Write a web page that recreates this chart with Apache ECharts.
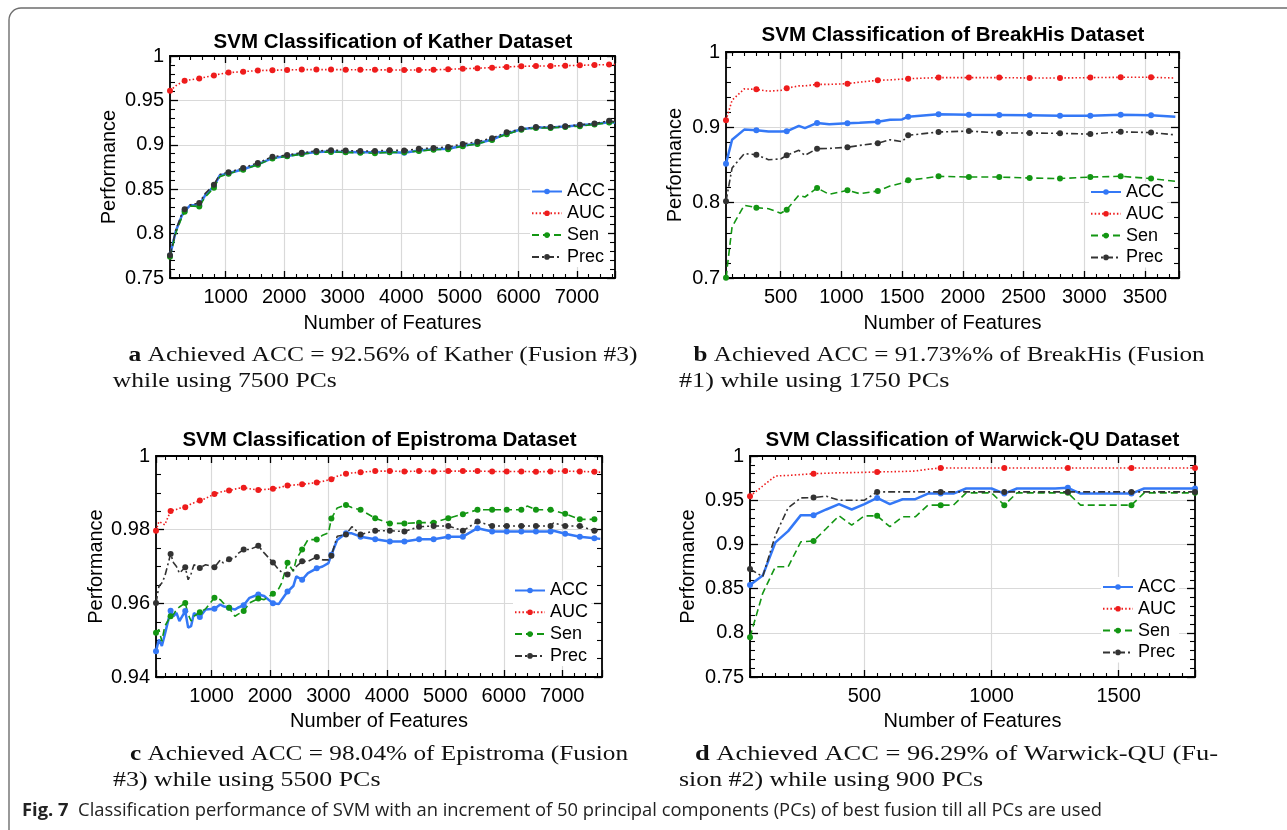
<!DOCTYPE html>
<html><head><meta charset="utf-8">
<script src="https://cdn.jsdelivr.net/npm/echarts@6/dist/echarts.min.js"></script>
<style>html,body{margin:0;padding:0;background:#fff}#c{width:1287px;height:830px}</style>
</head><body><div id="c"></div>
<script>
// ---------------- DATA ----------------
const seriesNames = ['ACC', 'AUC', 'Sen', 'Prec'];

// (a) Kather
const katherX = [50,150,250,300,400,550,650,800,900,1050,1300,1550,1800,2050,2300,2550,2800,3050,3300,3550,3800,4050,4300,4550,4800,5050,5300,5550,5800,6050,6300,6550,6800,7050,7300,7550,7650];
const katherACC = [0.775,0.803,0.820,0.8255,0.832,0.832,0.843,0.8535,0.8655,0.868,0.8725,0.878,0.885,0.8875,0.890,0.892,0.8925,0.892,0.8915,0.8915,0.892,0.891,0.8935,0.895,0.8955,0.899,0.9015,0.906,0.9125,0.9175,0.9195,0.9195,0.9205,0.922,0.9235,0.9255,0.925];
const katherAUC = [0.9608,0.9665,0.9705,0.9720,0.9732,0.9746,0.9762,0.9780,0.9797,0.9813,0.9824,0.9836,0.9840,0.9843,0.9847,0.9847,0.9847,0.9846,0.9846,0.9844,0.9843,0.9843,0.9843,0.9844,0.9850,0.9857,0.9862,0.9869,0.9877,0.9884,0.9887,0.9888,0.9891,0.9895,0.9900,0.9903,0.9905];
const katherSen = [0.774,0.801,0.818,0.8245,0.831,0.8305,0.841,0.8515,0.864,0.8675,0.872,0.8775,0.8845,0.887,0.8895,0.8915,0.892,0.8915,0.891,0.8905,0.8915,0.8915,0.893,0.8945,0.895,0.8985,0.901,0.9055,0.912,0.917,0.919,0.919,0.920,0.921,0.9228,0.925,0.9255];
const katherPrec = [0.7755,0.804,0.822,0.8274,0.8325,0.8345,0.845,0.855,0.8665,0.869,0.874,0.8795,0.8865,0.8885,0.891,0.893,0.894,0.8935,0.893,0.893,0.894,0.8935,0.8955,0.8965,0.8975,0.901,0.9035,0.9075,0.914,0.918,0.920,0.920,0.921,0.9225,0.924,0.927,0.926];

// (b) BreakHis
const breakhisX = [50,100,200,300,400,500,550,650,700,800,900,1050,1150,1300,1400,1500,1550,1800,2050,2300,2550,2800,3050,3300,3550,3750];
const breakhisACC = [0.8518,0.8836,0.897,0.896,0.8945,0.8945,0.8947,0.902,0.899,0.9058,0.904,0.9053,0.906,0.9075,0.910,0.9105,0.9142,0.9173,0.9168,0.9164,0.916,0.9155,0.9155,0.9168,0.916,0.9142];
const breakhisAUC = [0.9093,0.936,0.951,0.9504,0.948,0.949,0.952,0.955,0.955,0.957,0.957,0.958,0.960,0.9624,0.963,0.964,0.9646,0.966,0.966,0.966,0.9655,0.9655,0.966,0.9664,0.9664,0.9655];
const breakhisSen = [0.7004,0.768,0.7965,0.7934,0.792,0.786,0.7907,0.810,0.8075,0.8195,0.811,0.8164,0.812,0.8155,0.822,0.826,0.8296,0.835,0.834,0.834,0.8327,0.832,0.834,0.835,0.832,0.8283];
const breakhisPrec = [0.8018,0.846,0.865,0.8637,0.857,0.858,0.8628,0.8695,0.8628,0.8717,0.872,0.8735,0.876,0.879,0.8836,0.881,0.8894,0.8938,0.895,0.8925,0.8925,0.892,0.891,0.894,0.893,0.890];

// (c) Epistroma
const epistromaX = [50,100,150,200,300,350,400,450,550,600,650,700,800,900,1050,1150,1200,1300,1400,1450,1550,1650,1800,1900,2050,2150,2200,2300,2400,2450,2550,2650,2800,2900,3000,3050,3150,3300,3400,3550,3800,4050,4300,4550,4800,5050,5300,5550,5800,6050,6300,6400,6550,6800,6850,7050,7300,7550,7650];
const epistromaACC = [0.9470,0.9502,0.9484,0.9515,0.9580,0.9565,0.9574,0.9552,0.9579,0.9534,0.9538,0.9574,0.9563,0.9583,0.9585,0.9597,0.9592,0.9588,0.9583,0.9588,0.9595,0.9615,0.9624,0.9620,0.9600,0.9598,0.9610,0.9632,0.9647,0.9673,0.9664,0.9682,0.9695,0.9700,0.9709,0.9732,0.9772,0.9790,0.9790,0.9781,0.9774,0.9768,0.9768,0.9774,0.9774,0.9781,0.9781,0.9804,0.9795,0.9795,0.9795,0.9795,0.9795,0.9795,0.9797,0.9789,0.9781,0.9777,0.9775];
const epistromaAUC = [0.9797,0.9822,0.9818,0.9813,0.9851,0.9853,0.9855,0.9858,0.9861,0.9865,0.9870,0.9873,0.9879,0.9885,0.9897,0.9902,0.9904,0.9906,0.9910,0.9912,0.9914,0.9911,0.9908,0.9909,0.9911,0.9914,0.9916,0.9920,0.9921,0.9922,0.9923,0.9925,0.9928,0.9931,0.9935,0.9937,0.9945,0.9952,0.9954,0.9956,0.9959,0.9959,0.9958,0.9959,0.9958,0.9959,0.9959,0.9959,0.9958,0.9958,0.9958,0.9958,0.9957,0.9958,0.9958,0.9959,0.9958,0.9957,0.9956];
const epistromaSen = [0.9520,0.9529,0.9497,0.9538,0.9565,0.9570,0.9583,0.9590,0.9601,0.9570,0.9552,0.9565,0.9576,0.9585,0.9615,0.9610,0.9601,0.9588,0.9565,0.9570,0.9579,0.9601,0.9613,0.9610,0.9626,0.9640,0.9655,0.9710,0.9687,0.9720,0.9746,0.9773,0.9773,0.9785,0.9791,0.9830,0.9859,0.9867,0.9860,0.9854,0.9831,0.9817,0.9817,0.9819,0.9819,0.9831,0.9842,0.9854,0.9854,0.9854,0.9854,0.9864,0.9854,0.9854,0.9852,0.9843,0.9828,0.9828,0.9828];
const epistromaPrec = [0.9601,0.9646,0.9655,0.9673,0.9734,0.9710,0.9700,0.9682,0.9698,0.9664,0.9680,0.9705,0.9696,0.9705,0.9698,0.9718,0.9710,0.9720,0.9723,0.9735,0.9746,0.9746,0.9756,0.9737,0.9711,0.9691,0.9685,0.9678,0.9691,0.9700,0.9714,0.9714,0.9726,0.9718,0.9718,0.9729,0.9782,0.9787,0.9808,0.9787,0.9797,0.9797,0.9795,0.9808,0.9810,0.9810,0.9797,0.9822,0.9810,0.9810,0.9810,0.9810,0.9810,0.9810,0.9818,0.9810,0.9810,0.9797,0.9797];

// (d) Warwick-QU
const warwickX = [50,100,150,200,250,300,350,400,450,500,550,600,650,700,750,800,850,900,950,1000,1050,1100,1150,1200,1250,1300,1350,1400,1450,1500,1550,1600,1650,1700,1750,1800];
const warwickACC = [0.8541,0.8647,0.9023,0.9150,0.9331,0.9331,0.9395,0.9455,0.9395,0.9455,0.9526,0.9455,0.9511,0.9511,0.9575,0.9575,0.9575,0.9632,0.9632,0.9632,0.9575,0.9632,0.9632,0.9632,0.9632,0.9640,0.9575,0.9575,0.9575,0.9575,0.9575,0.9632,0.9632,0.9632,0.9632,0.9632];
const warwickAUC = [0.9545,0.9660,0.9774,0.9780,0.9790,0.9800,0.9805,0.9810,0.9812,0.9815,0.9820,0.9822,0.9825,0.9830,0.9850,0.9865,0.9865,0.9865,0.9865,0.9865,0.9865,0.9865,0.9865,0.9865,0.9865,0.9865,0.9865,0.9865,0.9865,0.9865,0.9865,0.9865,0.9865,0.9865,0.9865,0.9865];
const warwickSen = [0.7951,0.8447,0.8748,0.8748,0.9030,0.9038,0.9180,0.9323,0.9218,0.9323,0.9323,0.9200,0.9312,0.9312,0.9444,0.9444,0.9444,0.9583,0.9583,0.9583,0.9444,0.9583,0.9583,0.9583,0.9583,0.9583,0.9444,0.9444,0.9444,0.9444,0.9444,0.9583,0.9583,0.9583,0.9583,0.9583];
const warwickPrec = [0.8722,0.8635,0.9105,0.9414,0.9526,0.9530,0.9545,0.9500,0.9500,0.9500,0.9594,0.9594,0.9594,0.9594,0.9594,0.9594,0.9594,0.9594,0.9594,0.9594,0.9594,0.9594,0.9594,0.9594,0.9594,0.9594,0.9594,0.9594,0.9594,0.9594,0.9594,0.9594,0.9594,0.9594,0.9594,0.9594];

// Axis ranges
const katherXRange = [50, 7650], breakhisXRange = [50, 3780], epistromaXRange = [50, 7680], warwickXRange = [50, 1800];
const katherYRange = [0.75, 1], breakhisYRange = [0.7, 1], epistromaYRange = [0.94, 1], warwickYRange = [0.75, 1];

const titles = ['SVM Classification of Kather Dataset', 'SVM Classification of BreakHis Dataset', 'SVM Classification of Epistroma Dataset', 'SVM Classification of Warwick-QU Dataset'];

// ---------------- STYLE / LAYOUT ----------------
const FONT = '"Liberation Sans", Arial, Helvetica, sans-serif';
const SERIF = '"Liberation Serif", "Times New Roman", serif';
const SANS2 = '"Open Sans", "Noto Sans", sans-serif';
const styles = {
  ACC:  {color: '#3478f6', width: 2.5, type: 'solid'},
  AUC:  {color: '#ee1c1c', width: 1.6, type: [1.5, 2.2]},
  Sen:  {color: '#139613', width: 1.6, type: [7, 4]},
  Prec: {color: '#333333', width: 1.6, type: [7, 3, 2, 3]}
};

const panels = [
  {x: katherX, s: {ACC: katherACC, AUC: katherAUC, Sen: katherSen, Prec: katherPrec},
   grid: {left: 170, top: 56, width: 445, height: 222}, xr: katherXRange, xi: 1000, xMinor: 5,
   yr: katherYRange, yi: 0.05, yMinor: 5, yGap: 51, xGap: 35,
   legend: {left: 530, top: 181.5}, title: [393, 42]},
  {x: breakhisX, s: {ACC: breakhisACC, AUC: breakhisAUC, Sen: breakhisSen, Prec: breakhisPrec},
   grid: {left: 726, top: 52, width: 453, height: 226}, xr: breakhisXRange, xi: 500, xMinor: 5,
   yr: breakhisYRange, yi: 0.1, yMinor: 5, yGap: 41, xGap: 35,
   legend: {left: 1089, top: 182}, title: [953, 35]},
  {x: epistromaX, s: {ACC: epistromaACC, AUC: epistromaAUC, Sen: epistromaSen, Prec: epistromaPrec},
   grid: {left: 156, top: 456, width: 446, height: 221}, xr: epistromaXRange, xi: 1000, xMinor: 5,
   yr: epistromaYRange, yi: 0.02, yMinor: 4, yGap: 50, xGap: 34,
   legend: {left: 513, top: 580.5}, title: [379.5, 440]},
  {x: warwickX, s: {ACC: warwickACC, AUC: warwickAUC, Sen: warwickSen, Prec: warwickPrec},
   grid: {left: 750, top: 456, width: 445, height: 221}, xr: warwickXRange, xi: 500, xMinor: 10,
   yr: warwickYRange, yi: 0.05, yMinor: 5, yGap: 52, xGap: 34,
   legend: {left: 1101, top: 577}, title: [972.4, 440]}
];

const grids = [], xAxes = [], yAxes = [], series = [], legends = [], graphics = [];
const lblStyle = {fontFamily: FONT, fontSize: 20, color: '#000'};
const axLine = {show: true, onZero: false, lineStyle: {color: '#000', width: 1.8}};
const tickBase = {show: true, inside: true, length: 7, lineStyle: {color: '#000', width: 1.3}};

panels.forEach((p, gi) => {
  grids.push(Object.assign({outerBoundsMode: 'none', containLabel: false}, p.grid));
  const xCommon = {gridIndex: gi, type: 'value', min: p.xr[0], max: p.xr[1], minInterval: p.xi, maxInterval: p.xi,
    splitNumber: Math.round((p.xr[1] - p.xr[0]) / p.xi), axisLine: axLine, axisTick: tickBase,
    minorTick: {show: true, splitNumber: p.xMinor, length: 4, lineStyle: {color: '#000', width: 1.1}}};
  xAxes.push(Object.assign({}, xCommon, {
    position: 'bottom', name: 'Number of Features', nameLocation: 'middle', nameGap: p.xGap,
    nameTextStyle: {fontFamily: FONT, fontSize: 20, color: '#000'},
    axisLabel: Object.assign({margin: 9, formatter: v => (Math.abs(v / p.xi - Math.round(v / p.xi)) < 1e-6 ? String(Math.round(v)) : '')}, lblStyle),
    splitLine: {show: true, lineStyle: {color: '#d9d9d9', width: 1.2}}
  }));
  xAxes.push(Object.assign({}, xCommon, {position: 'top', axisLabel: {show: false}, splitLine: {show: false}}));
  const yCommon = {gridIndex: gi, type: 'value', min: p.yr[0], max: p.yr[1], interval: p.yi, axisLine: axLine,
    axisTick: Object.assign({}, tickBase, {length: 8}),
    minorTick: {show: true, splitNumber: p.yMinor, length: 5, lineStyle: {color: '#000', width: 1.1}}};
  yAxes.push(Object.assign({}, yCommon, {
    position: 'left', name: 'Performance', nameLocation: 'middle', nameRotate: 90, nameGap: p.yGap,
    nameTextStyle: {fontFamily: FONT, fontSize: 20, color: '#000'},
    axisLabel: Object.assign({margin: 6}, lblStyle),
    splitLine: {show: true, lineStyle: {color: '#d9d9d9', width: 1.2}}
  }));
  yAxes.push(Object.assign({}, yCommon, {position: 'right', axisLabel: {show: false}, splitLine: {show: false}}));

  seriesNames.forEach(nm => {
    const st = styles[nm];
    const ys = p.s[nm];
    const data = p.x.map((xv, i) => ((xv - 50) % 250 === 0) ? [xv, ys[i]] : {value: [xv, ys[i]], symbol: 'none'});
    series.push({
      type: 'line', name: nm, xAxisIndex: 2 * gi, yAxisIndex: 2 * gi, data,
      symbol: 'circle', symbolSize: 6, showAllSymbol: true,
      lineStyle: {color: st.color, width: st.width, type: st.type},
      itemStyle: {color: st.color, borderWidth: 0},
      emphasis: {disabled: true}, silent: true
    });
  });

  legends.push({
    data: seriesNames, orient: 'vertical', left: p.legend.left, top: p.legend.top,
    itemWidth: 30, itemHeight: 7, itemGap: 3.8, padding: [1, 3, 1, 1],
    backgroundColor: '#fff', selectedMode: false,
    textStyle: {fontFamily: FONT, fontSize: 18, color: '#000', lineHeight: 18}
  });

  graphics.push({type: 'text', x: p.title[0], y: p.title[1], style: {
    text: titles[gi], fontFamily: FONT, fontSize: 20.5, fontWeight: 'bold', fill: '#000',
    align: 'center', verticalAlign: 'middle'}});
});

// ---------------- CAPTIONS ----------------
const cv = document.createElement('canvas').getContext('2d');
function tw(t, f) { cv.font = f; return cv.measureText(t).width; }
const capR = '20px ' + SERIF, capB = 'bold 20px ' + SERIF;
function capWidth(bold, rest) { return (bold ? tw(bold, capB) : 0) + tw(rest, capR); }
function capText(bold, rest, x, y, sc) {
  return {type: 'text', x, y, scaleX: sc, style: {
    text: bold ? '{b|' + bold + '}' + rest : rest, fontFamily: SERIF, fontSize: 20, fill: '#111',
    align: 'left', verticalAlign: 'middle',
    rich: {b: {fontFamily: SERIF, fontSize: 20, fontWeight: 'bold', fill: '#111'}}}};
}
const capLines = [
  ['a', ' Achieved ACC = 92.56% of Kather (Fusion #3)', 128.4, 356, 637.6],
  ['', 'while using 7500 PCs', 112.8, 382, 336.7],
  ['b', ' Achieved ACC = 91.73%% of BreakHis (Fusion', 693.6, 356, 1204.6],
  ['', '#1) while using 1750 PCs', 679, 382, 949.5],
  ['c', ' Achieved ACC = 98.04% of Epistroma (Fusion', 130, 755, 628],
  ['', '#3) while using 5500 PCs', 113, 781, null],
  ['d', ' Achieved ACC = 96.29% of Warwick-QU (Fu-', 695, 755, 1218],
  ['', 'sion #2) while using 900 PCs', 679, 781, null]
];
const natScale = ((336.7 - 112.8) / capWidth('', 'while using 7500 PCs') + (949.5 - 679) / capWidth('', '#1) while using 1750 PCs')) / 2;
capLines.forEach(([b, r, x, y, right]) => {
  const sc = right ? (right - x) / capWidth(b, r) : natScale;
  graphics.push(capText(b, r, x, y, sc));
});
// Figure caption
const figB = 'Fig. 7', figR = '  Classification performance of SVM with an increment of 50 principal components (PCs) of best fusion till all PCs are used';
const figW = tw(figB, 'bold 18px ' + SANS2) + tw(figR, '18px ' + SANS2);
graphics.push({type: 'text', x: 22, y: 811, scaleX: (1102 - 22) / figW, style: {
  text: '{b|' + figB + '}' + figR, fontFamily: SANS2, fontSize: 18, fill: '#222', align: 'left', verticalAlign: 'middle',
  rich: {b: {fontFamily: SANS2, fontSize: 18, fontWeight: 'bold', fill: '#222'}}}});
// Outer frame
graphics.push({type: 'rect', z: -1, shape: {x: 9, y: 8, width: 1400, height: 900, r: 12},
  style: {fill: 'none', stroke: '#6e6e6e', lineWidth: 1.4}});

const chart = echarts.init(document.getElementById('c'), null, {renderer: 'canvas'});
chart.setOption({
  animation: false,
  backgroundColor: '#fff',
  grid: grids, xAxis: xAxes, yAxis: yAxes, series, legend: legends,
  graphic: {elements: graphics}
});
</script>
</body></html>
